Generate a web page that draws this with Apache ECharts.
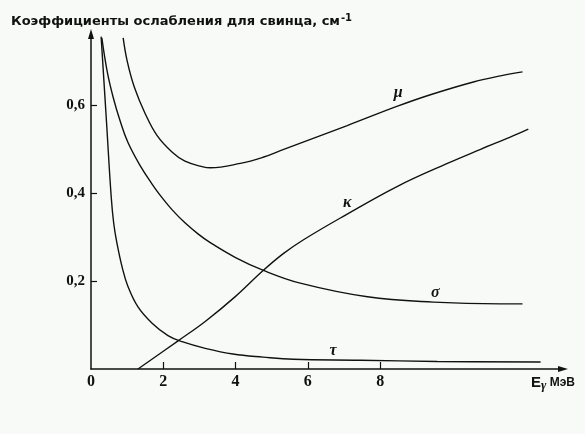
<!DOCTYPE html>
<html>
<head>
<meta charset="utf-8">
<title>Коэффициенты ослабления для свинца</title>
<script src="https://cdn.jsdelivr.net/npm/echarts@6/dist/echarts.min.js"></script>
<style>
  html, body { margin: 0; padding: 0; background: #f8faf8; }
  #chart { width: 585px; height: 434px; }
</style>
</head>
<body>
<div id="chart"></div>
<script>
// Attenuation coefficients of lead vs. photon energy (MeV), cm^-1
const xTicks = [0, 2, 4, 6, 8];
const yTicks = [0.2, 0.4, 0.6];

// photoelectric absorption
const tauPts = [
  [0.28, 0.755], [0.43, 0.560], [0.56, 0.390], [0.63, 0.330], [0.72, 0.285],
  [0.86, 0.232], [1.02, 0.188], [1.30, 0.141], [1.69, 0.104], [2.13, 0.076],
  [2.52, 0.062], [3.16, 0.047], [3.93, 0.034], [4.76, 0.027], [5.60, 0.022],
  [7.45, 0.020], [9.58, 0.017], [12.44, 0.016]
];
// Compton scattering
const sigmaPts = [
  [0.30, 0.752], [0.45, 0.675], [0.62, 0.615], [0.80, 0.565], [1.02, 0.515],
  [1.36, 0.462], [1.69, 0.420], [1.91, 0.395], [2.24, 0.362], [2.60, 0.332],
  [2.96, 0.307], [3.30, 0.287], [4.00, 0.253], [4.74, 0.225], [5.79, 0.195],
  [7.65, 0.164], [9.47, 0.152], [11.33, 0.148], [11.94, 0.148]
];
// pair production
const kappaPts = [
  [1.30, 0.000], [2.41, 0.064], [3.16, 0.108], [4.00, 0.165], [4.74, 0.222],
  [5.32, 0.262], [5.87, 0.293], [6.90, 0.343], [8.48, 0.415], [9.86, 0.467],
  [10.78, 0.499], [11.69, 0.530], [12.10, 0.545]
];
// total attenuation
const muPts = [
  [0.89, 0.752], [1.00, 0.700], [1.20, 0.640], [1.50, 0.580], [1.83, 0.530],
  [2.24, 0.493], [2.60, 0.472], [3.10, 0.459], [3.30, 0.457], [4.13, 0.467],
  [4.76, 0.481], [5.24, 0.496], [7.09, 0.553], [8.48, 0.597], [9.39, 0.623],
  [10.58, 0.652], [11.33, 0.666], [11.94, 0.675]
];

// curve name tags: [x, y, text]
const curveTags = {
  mu: [8.50, 0.627, 'μ'],
  kappa: [7.09, 0.377, 'κ'],
  sigma: [9.53, 0.173, 'σ'],
  tau: [6.70, 0.041, 'τ']
};

const ink = '#111';

function tag(t) {
  return {
    symbol: 'circle',
    symbolSize: 0,
    silent: true,
    label: {
      show: true,
      position: 'inside',
      formatter: t[2],
      color: ink,
      fontFamily: 'Liberation Serif',
      fontStyle: 'italic',
      fontWeight: 'bold',
      fontSize: 16
    },
    data: [{ coord: [t[0], t[1]] }]
  };
}

function curve(name, pts, t) {
  return {
    name: name,
    type: 'line',
    data: pts,
    smooth: 0.4,
    showSymbol: false,
    silent: true,
    lineStyle: { color: ink, width: 1.4 },
    markPoint: tag(t)
  };
}

const chart = echarts.init(document.getElementById('chart'), null, { renderer: 'canvas' });

chart.setOption({
  backgroundColor: '#f8faf8',
  animation: false,
  title: {
    left: 6,
    top: 8,
    text: '{a|Коэффициенты ослабления для свинца, см}{s|-1}',
    textStyle: {
      rich: {
        a: { fontFamily: 'DejaVu Sans', fontWeight: 'bold', fontSize: 13, color: ink },
        s: { fontFamily: 'DejaVu Sans', fontWeight: 'bold', fontSize: 10, color: ink, verticalAlign: 'top', padding: [0, 0, 7, 1] }
      }
    }
  },
  graphic: [{
    type: 'text',
    left: 531,
    top: 375,
    style: {
      text: '{e|E}{g|γ}{m| МэВ}',
      rich: {
        e: { fontFamily: 'Liberation Sans', fontWeight: 'bold', fontSize: 15, fill: ink },
        g: { fontFamily: 'Liberation Serif', fontWeight: 'bold', fontStyle: 'italic', fontSize: 13, fill: ink, padding: [7, 0, 0, 0] },
        m: { fontFamily: 'Liberation Sans', fontWeight: 'bold', fontSize: 12, fill: ink }
      }
    }
  }],
  grid: { left: 91, top: 34, width: 472, height: 335 },
  xAxis: {
    type: 'value',
    min: 0,
    max: 13.06,
    interval: 2,
    splitLine: { show: false },
    axisLine: {
      show: true,
      symbol: ['none', 'triangle'],
      symbolSize: [6, 10],
      lineStyle: { color: ink, width: 1.5 }
    },
    axisTick: { show: true, inside: true, length: 7, customValues: [2, 4, 6, 8], lineStyle: { color: ink, width: 1.2 } },
    axisLabel: {
      customValues: xTicks,
      margin: 5,
      color: ink,
      fontFamily: 'Liberation Serif',
      fontWeight: 'bold',
      fontSize: 16,
      formatter: v => String(v)
    }
  },
  yAxis: {
    type: 'value',
    min: 0,
    max: 0.761,
    splitLine: { show: false },
    axisLine: {
      show: true,
      symbol: ['none', 'triangle'],
      symbolSize: [6, 10],
      lineStyle: { color: ink, width: 1.5 }
    },
    axisTick: { show: true, inside: true, length: 6, customValues: yTicks, lineStyle: { color: ink, width: 1.2 } },
    axisLabel: {
      customValues: yTicks,
      margin: 6,
      color: ink,
      fontFamily: 'Liberation Serif',
      fontWeight: 'bold',
      fontSize: 15,
      formatter: v => v.toFixed(1).replace('.', ',')
    }
  },
  series: [
    curve('τ', tauPts, curveTags.tau),
    curve('σ', sigmaPts, curveTags.sigma),
    curve('κ', kappaPts, curveTags.kappa),
    curve('μ', muPts, curveTags.mu)
  ]
});
</script>
</body>
</html>
